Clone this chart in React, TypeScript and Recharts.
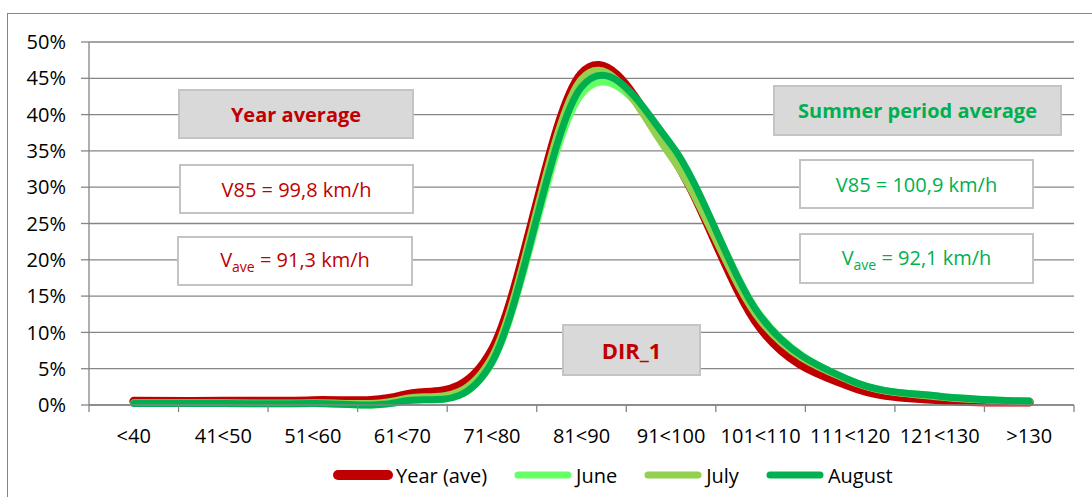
import React from 'react';
import { LineChart, Line, XAxis, YAxis, CartesianGrid, Legend } from 'recharts';

const CATEGORIES = ['<40', '41<50', '51<60', '61<70', '71<80', '81<90', '91<100', '101<110', '111<120', '121<130', '>130'];
const YEAR_AVE = [0.5, 0.5, 0.6, 1.3, 7.5, 45.6, 34.6, 10.6, 2.6, 0.7, 0.4];
const JUNE = [0.2, 0.2, 0.2, 0.5, 5.8, 42.8, 35.6, 12.3, 3.4, 1.2, 0.5];
const JULY = [0.3, 0.3, 0.3, 0.8, 6.6, 44.9, 34.2, 11.6, 3.3, 1.1, 0.5];
const AUGUST = [0.2, 0.2, 0.2, 0.5, 5.9, 43.8, 35.9, 12.2, 3.4, 1.2, 0.5];
const Y_TICKS = [0, 5, 10, 15, 20, 25, 30, 35, 40, 45, 50];

const data = CATEGORIES.map((cat, i) => ({
  cat,
  year: YEAR_AVE[i],
  june: JUNE[i],
  july: JULY[i],
  august: AUGUST[i],
}));

const series = [
  { key: 'year', name: 'Year (ave)', color: '#c00000', width: 9 },
  { key: 'june', name: 'June', color: '#66ff66', width: 7 },
  { key: 'july', name: 'July', color: '#92d050', width: 7 },
  { key: 'august', name: 'August', color: '#00b050', width: 7 },
];

const W = 1092;
const H = 497;
const MARGIN = { top: 42, right: 18, left: 29, bottom: 32 };
const Y_AXIS_W = 60;
const BAND = (W - MARGIN.left - Y_AXIS_W - MARGIN.right) / CATEGORIES.length;
const GRID = '#868686';

// smoothed line like excel (catmull-rom through the points)
const smoothCurve = (context: any) => {
  let pts: number[][] = [];
  return {
    areaStart() {},
    areaEnd() {},
    lineStart() { pts = []; },
    point(x: number, y: number) { pts.push([+x, +y]); },
    lineEnd() {
      if (!pts.length) return;
      context.moveTo(pts[0][0], pts[0][1]);
      for (let i = 0; i < pts.length - 1; i++) {
        const p0 = pts[i - 1] || pts[i];
        const p1 = pts[i];
        const p2 = pts[i + 1];
        const p3 = pts[i + 2] || p2;
        context.bezierCurveTo(
          p1[0] + (p2[0] - p0[0]) / 6, p1[1] + (p2[1] - p0[1]) / 6,
          p2[0] - (p3[0] - p1[0]) / 6, p2[1] - (p3[1] - p1[1]) / 6,
          p2[0], p2[1]
        );
      }
    },
  };
};

function XTick(props: any) {
  const { x, y, payload, index } = props;
  const half = BAND / 2;
  return (
    <g>
      <line x1={x - half} y1={y} x2={x - half} y2={y + 7} stroke={GRID} strokeWidth={1.3} />
      {index === CATEGORIES.length - 1 && (
        <line x1={x + half} y1={y} x2={x + half} y2={y + 7} stroke={GRID} strokeWidth={1.3} />
      )}
      <text x={x} y={y + 38} textAnchor="middle" fontSize={20} fill="#000">{payload.value}</text>
    </g>
  );
}

function LegendContent() {
  return (
    <div style={{ display: 'flex', alignItems: 'center', paddingLeft: 333, height: 30 }}>
      {series.map(s => (
        <div key={s.key} style={{ display: 'flex', alignItems: 'center', marginRight: 26 }}>
          <svg width={60} height={14}>
            <line x1={5} y1={7} x2={55} y2={7} stroke={s.color} strokeWidth={s.key === 'year' ? 10 : 7} strokeLinecap="round" />
          </svg>
          <span style={{ fontSize: 20, color: '#000', marginLeft: 3 }}>{s.name}</span>
        </div>
      ))}
    </div>
  );
}

const box = (left: number, top: number, width: number, height: number, gray: boolean): React.CSSProperties => ({
  position: 'absolute', left, top, width, height, boxSizing: 'border-box',
  border: '2px solid #c4c4c4', background: gray ? '#d9d9d9' : '#ffffff',
  display: 'flex', alignItems: 'center', justifyContent: 'center',
});

const RED = '#c00000';
const GREEN = '#00b050';

export default function App() {
  return (
    <div style={{ position: 'absolute', left: 0, top: 0, width: W, height: H, overflow: 'hidden', background: '#fff', fontFamily: '"Open Sans", sans-serif' }}>
      <div style={{ position: 'absolute', left: 7, top: 13, width: 1110, height: 520, border: `1.5px solid ${GRID}` }} />
      <div style={{ position: 'absolute', left: 0, top: 0 }}>
        <LineChart width={W} height={H} data={data} margin={MARGIN}>
          <CartesianGrid vertical={false} stroke={GRID} strokeWidth={1.3} />
          <XAxis
            dataKey="cat"
            height={30}
            tickSize={0}
            tickMargin={0}
            tickLine={false}
            padding={{ left: BAND / 2, right: BAND / 2 }}
            axisLine={{ stroke: GRID, strokeWidth: 1.3 }}
            tick={<XTick />}
            interval={0}
          />
          <YAxis
            width={Y_AXIS_W}
            domain={[0, 50]}
            ticks={Y_TICKS}
            tickFormatter={(v: number) => `${v}%`}
            tickSize={8}
            tickMargin={15}
            tickLine={{ stroke: GRID, strokeWidth: 1.3 }}
            axisLine={{ stroke: GRID, strokeWidth: 1.3 }}
            tick={{ fontSize: 20, fill: '#000' }}
          />
          <Legend
            verticalAlign="bottom"
            content={<LegendContent />}
            wrapperStyle={{ left: 0, top: 460, width: W, height: 30 }}
          />
          {series.map(s => (
            <Line
              key={s.key}
              dataKey={s.key}
              name={s.name}
              type={smoothCurve as any}
              stroke={s.color}
              strokeWidth={s.width}
              strokeLinecap="round"
              strokeLinejoin="round"
              dot={false}
              activeDot={false}
              isAnimationActive={false}
            />
          ))}
        </LineChart>
      </div>

      <div style={box(178, 89, 236, 50, true)}>
        <span style={{ color: RED, fontWeight: 700, fontSize: 20 }}>Year average</span>
      </div>
      <div style={box(179, 164, 235, 50, false)}>
        <span style={{ color: RED, fontSize: 20 }}>V85 = 99,8 km/h</span>
      </div>
      <div style={box(177, 236, 236, 50, false)}>
        <span style={{ color: RED, fontSize: 20 }}>V<sub style={{ fontSize: 14 }}>ave</sub> = 91,3 km/h</span>
      </div>

      <div style={box(773, 85, 289, 51, true)}>
        <span style={{ color: GREEN, fontWeight: 700, fontSize: 20 }}>Summer period average</span>
      </div>
      <div style={box(799, 159, 235, 50, false)}>
        <span style={{ color: GREEN, fontSize: 20 }}>V85 = 100,9 km/h</span>
      </div>
      <div style={box(799, 233, 235, 51, false)}>
        <span style={{ color: GREEN, fontSize: 20 }}>V<sub style={{ fontSize: 14 }}>ave</sub> = 92,1 km/h</span>
      </div>

      <div style={box(562, 324, 139, 52, true)}>
        <span style={{ color: RED, fontWeight: 700, fontSize: 22 }}>DIR_1</span>
      </div>
    </div>
  );
}
